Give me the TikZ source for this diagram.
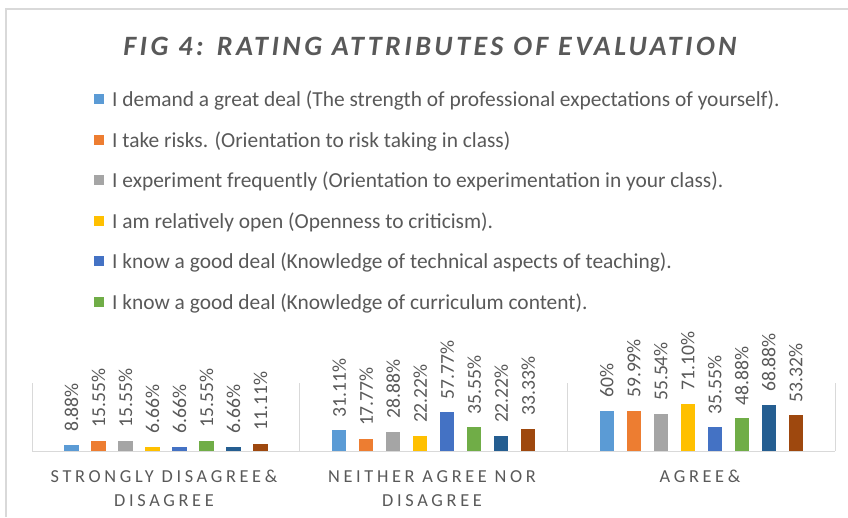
\documentclass[tikz,border=0pt]{standalone}
\usepackage{fontspec}
\setmainfont{Carlito}
\newfontfamily\titlefont[LetterSpace=12.4]{Carlito}
\newfontfamily\catfont[LetterSpace=20]{Carlito}
\definecolor{c1}{HTML}{5B9BD5}
\definecolor{c2}{HTML}{ED7D31}
\definecolor{c3}{HTML}{A5A5A5}
\definecolor{c4}{HTML}{FFC000}
\definecolor{c5}{HTML}{4472C4}
\definecolor{c6}{HTML}{70AD47}
\definecolor{c7}{HTML}{255E91}
\definecolor{c8}{HTML}{9E480E}
\definecolor{txt}{HTML}{595959}
\definecolor{grid}{HTML}{D9D9D9}
\begin{document}
\begin{tikzpicture}[x=1pt,y=-1pt,
  lab/.style={text=txt,font=\fontsize{19.6}{22}\selectfont,rotate=90,anchor=west,inner sep=0pt},
  cat/.style={text=txt,font=\catfont\fontsize{18.3}{24}\selectfont,align=center,anchor=north,inner sep=0pt},
  key/.style={text=txt,font=\fontsize{21.4}{24}\selectfont,anchor=base west,inner sep=0pt}]
\useasboundingbox (0,0) rectangle (848,517);
\fill[white] (0,0) rectangle (848,517);
\draw[grid,line width=1.5pt] (6,517)--(6,9)--(848,9);

\node[text=txt,font=\titlefont\bfseries\itshape\fontsize{28}{32}\selectfont,anchor=base,inner sep=0pt] (title) at (430,55) {FIG 4: RATING ATTRIBUTES OF EVALUATION};

% legend
\foreach \col/\lbl [count=\i from 0] in {
  c1/I demand a great deal (The strength of professional expectations of yourself).,
  c2/I take risks. (Orientation to risk taking in class),
  c3/I experiment frequently (Orientation to experimentation in your class).,
  c4/I am relatively open (Openness to criticism).,
  c5/I know a good deal (Knowledge of technical aspects of teaching).,
  c6/I know a good deal (Knowledge of curriculum content).}{
\fill[\col] (94,94+40.5*\i) rectangle ++(10,10);
\node[key] (k\i) at (112,106.7+40.5*\i) {\lbl};
}

% axis
\draw[grid] (32,451)--(835,451);
\foreach \x in {32,299.67,567.33,835}{
\draw[grid] (\x,383)--(\x,451);
}

% bars
\foreach \vals [count=\c from 0] in {
  {8.88,15.55,15.55,6.66,6.66,15.55,6.66,11.11},
  {31.11,17.77,28.88,22.22,57.77,35.55,22.22,33.33},
  {60,59.99,55.54,71.10,35.55,48.88,68.88,53.32}}{
\foreach \v [count=\i] in \vals{
\fill[c\i] (166+267.67*\c+27*\i-121.5-7.25,451) rectangle ++(14.5,-0.667*\v);
\node[lab] (v\c\i) at (166+267.67*\c+27*\i-121.5,451-0.667*\v-13) {\v\%};
}
}

\node[cat] (cat0) at (164,470) {STRONGLY DISAGREE\&\\DISAGREE};
\node[cat] (cat1) at (432,470) {NEITHER AGREE NOR\\DISAGREE};
\node[cat] (cat2) at (700,470) {AGREE\&};
\end{tikzpicture}
\end{document}
